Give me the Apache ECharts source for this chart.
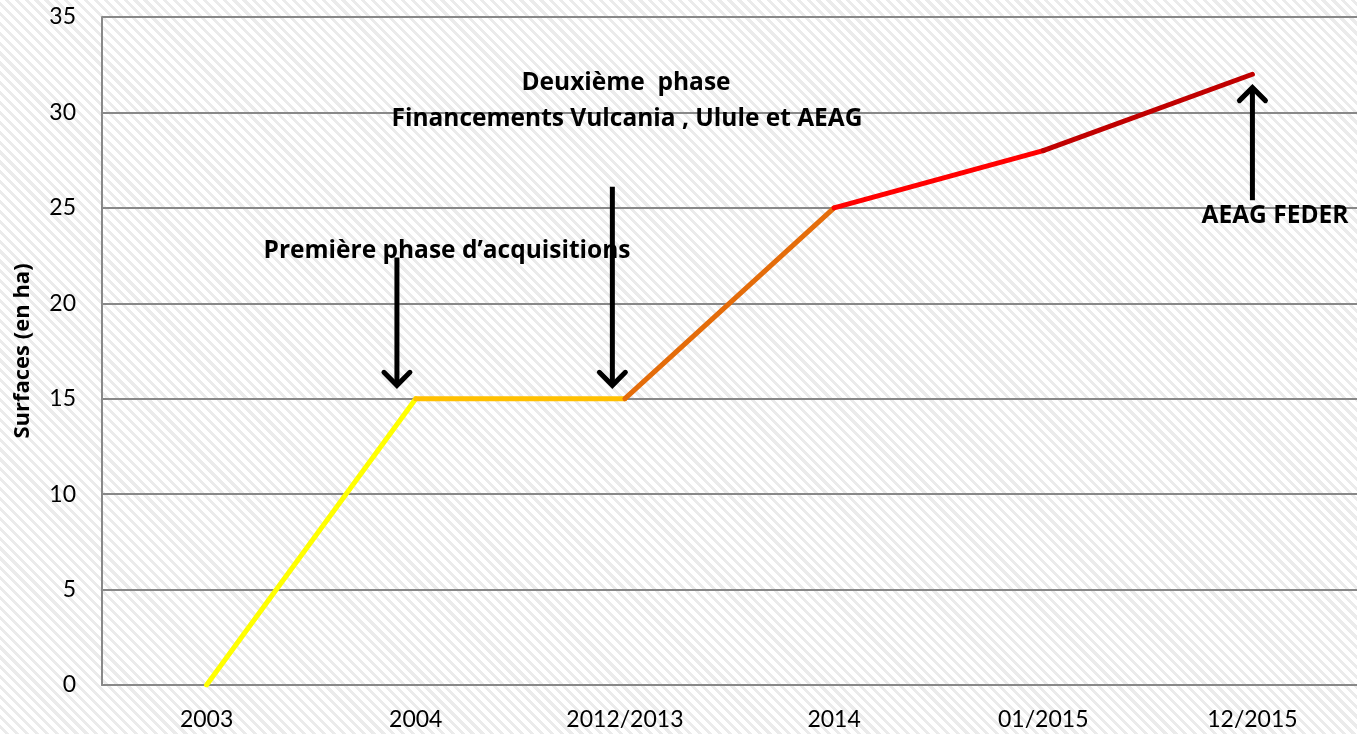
<!DOCTYPE html>
<html>
<head>
<meta charset="utf-8">
<script src="https://cdn.jsdelivr.net/npm/echarts@6/dist/echarts.min.js"></script>
<style>
html,body{margin:0;padding:0;}
#chart{width:1357px;height:734px;background:repeating-linear-gradient(45deg,#ffffff 0px,#ffffff 4px,#ebebeb 4px,#ebebeb 7px);}
</style>
</head>
<body>
<div id="chart"></div>
<script>
const categories = ['2003', '2004', '2012/2013', '2014', '01/2015', '12/2015'];
const surfaces = [0, 15, 15, 25, 28, 32];
const segmentColors = ['#FFFF00', '#FFC000', '#E46C0A', '#FF0000', '#C00000'];
const yTicks = [0, 5, 10, 15, 20, 25, 30, 35];
// arrows: [x position (category index units), from value, to value]
const arrows = [
  [0.91, 22.4, 15.7],
  [1.94, 26.1, 15.7],
  [5.0, 25.4, 31.3]
];
const annotations = [
  {text: 'Deuxième  phase', x: 626, y: 83},
  {text: 'Financements Vulcania , Ulule et AEAG', x: 627, y: 119},
  {text: 'Première phase d\u2019acquisitions', x: 447, y: 251},
  {text: 'AEAG FEDER', x: 1275, y: 216}
];

const FONT = 'Lato, "Open Sans", sans-serif';
const BOLDFONT = '"Open Sans", Lato, sans-serif';
const chart = echarts.init(document.getElementById('chart'), null, {renderer: 'canvas'});

const lineSeries = segmentColors.map((c, i) => ({
  type: 'line',
  xAxisIndex: 0,
  data: surfaces.map((v, j) => (j === i || j === i + 1) ? v : '-'),
  symbol: 'none',
  lineStyle: {color: c, width: 5, cap: 'round'},
  silent: true,
  z: 3
}));

const arrowSeries = {
  type: 'custom',
  xAxisIndex: 1,
  data: arrows,
  silent: true,
  z: 5,
  renderItem: function (params, api) {
    const p0 = api.coord([api.value(0), api.value(1)]);
    const p1 = api.coord([api.value(0), api.value(2)]);
    const dir = p1[1] > p0[1] ? 1 : -1;
    const h = 13;
    return {
      type: 'group',
      children: [
        {type: 'line', shape: {x1: p0[0], y1: p0[1], x2: p1[0], y2: p1[1] - dir * 2},
         style: {stroke: '#000', lineWidth: 5}},
        {type: 'polyline', shape: {points: [[p1[0] - h, p1[1] - dir * h], [p1[0], p1[1]], [p1[0] + h, p1[1] - dir * h]]},
         style: {stroke: '#000', lineWidth: 5, fill: null, lineJoin: 'miter', lineCap: 'round'}}
      ]
    };
  }
};

chart.setOption({
  animation: false,
  textStyle: {fontFamily: FONT},
  grid: {left: 102, top: 17, right: -12, bottom: 49},
  xAxis: [{
    type: 'category',
    data: categories,
    boundaryGap: true,
    axisLine: {show: true, onZero: false, lineStyle: {color: '#888', width: 2}},
    axisTick: {show: false},
    axisLabel: {color: '#000', fontSize: 23, fontFamily: FONT, margin: 23, interval: 0}
  }, {
    type: 'value',
    min: -0.5,
    max: 5.5,
    show: false
  }],
  yAxis: {
    type: 'value',
    min: 0,
    max: 35,
    interval: 5,
    name: 'Surfaces (en ha)',
    nameLocation: 'middle',
    nameRotate: 90,
    nameGap: 68,
    nameTextStyle: {color: '#000', fontSize: 22, fontWeight: 'bold', fontFamily: BOLDFONT},
    axisLine: {show: true, onZero: false, lineStyle: {color: '#888', width: 2}},
    axisTick: {show: false},
    axisLabel: {color: '#000', fontSize: 23, fontFamily: FONT, margin: 26,
      formatter: v => yTicks.includes(v) ? String(v) : ''},
    splitLine: {show: true, lineStyle: {color: '#888', width: 2}}
  },
  series: lineSeries.concat([arrowSeries]),
  graphic: annotations.map(a => ({
    type: 'text',
    x: a.x, y: a.y,
    z: 10,
    style: {text: a.text, fill: '#000', font: 'bold 24.5px ' + BOLDFONT, textAlign: 'center', textVerticalAlign: 'middle'}
  }))
});
</script>
</body>
</html>
